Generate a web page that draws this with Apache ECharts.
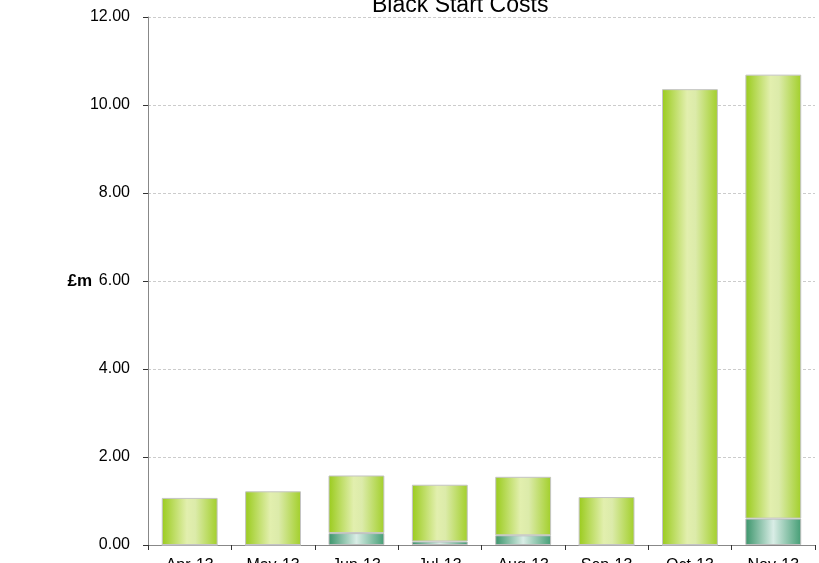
<!DOCTYPE html>
<html><head><meta charset="utf-8">
<script src="https://cdn.jsdelivr.net/npm/echarts@6/dist/echarts.min.js"></script>
<style>html,body{margin:0;padding:0;background:#fff;overflow:hidden}#c{width:819px;height:574px}</style>
</head><body><div id="c"></div>
<script>
const categories = ['Apr-13','May-13','Jun-13','Jul-13','Aug-13','Sep-13','Oct-13','Nov-13'];
const baseValues = [0, 0, 0.27, 0.08, 0.22, 0, 0, 0.60];
const totalValues = [1.07, 1.22, 1.58, 1.37, 1.55, 1.09, 10.36, 10.69];
const topValues = totalValues.map((t, i) => +(t - baseValues[i]).toFixed(2));

const chart = echarts.init(document.getElementById('c'));
const green = new echarts.graphic.LinearGradient(0,0,1,0,[
  {offset:0,color:'#9acb1c'},{offset:0.45,color:'#e2efae'},{offset:0.6,color:'#dcebaa'},{offset:1,color:'#a2cf2a'}]);
const teal = new echarts.graphic.LinearGradient(0,0,1,0,[
  {offset:0,color:'#3a946a'},{offset:0.5,color:'#d9ede6'},{offset:1,color:'#449d74'}]);
chart.setOption({
  animation:false,
  title:{text:'Black Start Costs',left:367,top:-11,textStyle:{fontFamily:'Liberation Sans',fontSize:23,fontWeight:'normal',color:'#000'}},
  grid:{left:148,width:667,top:17,height:543,containLabel:false},
  xAxis:{type:'category',data:categories,
    axisLine:{lineStyle:{color:'#888',width:1}},
    axisTick:{show:true,length:5,lineStyle:{color:'#333'}},
    axisLabel:{margin:13,fontFamily:'Liberation Sans',fontSize:16,color:'#000'}},
  yAxis:{type:'value',min:0,max:12,interval:2,
    name:'£m',nameLocation:'middle',nameRotate:0,nameGap:56,nameMoveOverlap:false,
    nameTextStyle:{fontFamily:'Liberation Sans',fontSize:17,fontWeight:'bold',color:'#000'},
    axisLine:{show:true,lineStyle:{color:'#888'}},
    axisTick:{show:true,length:5,lineStyle:{color:'#333'}},
    splitLine:{lineStyle:{color:'#cccccc',type:[3,2]}},
    axisLabel:{margin:18,fontFamily:'Liberation Sans',fontSize:16,color:'#000',formatter:v=>v.toFixed(2)}},
  series:[
    {type:'bar',stack:'s',data:baseValues,barWidth:'67%',itemStyle:{color:teal,borderColor:'#bdbdbd',borderWidth:1}},
    {type:'bar',stack:'s',data:topValues,barWidth:'67%',itemStyle:{color:green,borderColor:'#c4c4c4',borderWidth:1}}
  ]
});
</script></body></html>
